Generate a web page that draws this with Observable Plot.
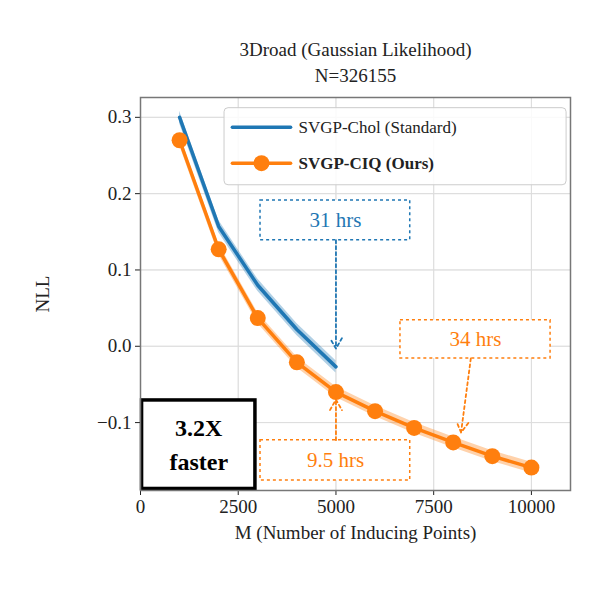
<!DOCTYPE html>
<html><head>
<meta charset="utf-8">
<script src="https://cdn.jsdelivr.net/npm/d3@7"></script>
<script src="https://cdn.jsdelivr.net/npm/@observablehq/plot@0.6"></script>
<style>body{margin:0;background:#fff}</style>
</head><body>
<div id="chart"></div>
<script>
const cholM = [1000, 2000, 3000, 4000, 5000]
const cholNLL = [0.300, 0.157, 0.080, 0.022, -0.027]
const ciqM = [1000, 2000, 3000, 4000, 5000, 6000, 7000, 8000, 9000, 10000]
const ciqNLL = [0.270, 0.127, 0.037, -0.021, -0.060, -0.085, -0.107, -0.126, -0.144, -0.159]
const blue = "#1f77b4", orange = "#ff7f0e"

const chol = cholM.map((m, i) => ({m, v: cholNLL[i]}))
const ciq = ciqM.map((m, i) => ({m, v: ciqNLL[i]}))

const boxes = [
  {x1: 3070, x2: 6900, y1: 0.139, y2: 0.191, c: blue, t: "31 hrs", tx: 4990, ty: 0.165},
  {x1: 6650, x2: 10490, y1: -0.016, y2: 0.034, c: orange, t: "34 hrs", tx: 8570, ty: 0.009},
  {x1: 3070, x2: 6900, y1: -0.176, y2: -0.123, c: orange, t: "9.5 hrs", tx: 4990, ty: -0.150}
]
const arrows = [
  {x1: 5000, y1: 0.139, x2: 5000, y2: -0.003, c: blue},
  {x1: 8450, y1: -0.016, x2: 8200, y2: -0.113, c: orange},
  {x1: 5000, y1: -0.123, x2: 5000, y2: -0.070, c: orange}
]

const chart = Plot.plot({
  width: 600, height: 600,
  marginLeft: 140, marginRight: 30, marginTop: 97, marginBottom: 110,
  style: {fontFamily: "Liberation Serif", fontSize: "19px", color: "#222"},
  x: {domain: [0, 11000], ticks: [0, 2500, 5000, 7500, 10000], grid: true, label: "M (Number of Inducing Points)", labelArrow: "none", labelAnchor: "center", labelOffset: 48, tickSize: 5, tickFormat: d => String(d)},
  y: {domain: [-0.189, 0.326], ticks: [-0.1, 0, 0.1, 0.2, 0.3], grid: true, label: "NLL", labelArrow: "none", labelAnchor: "center", labelOffset: 105, tickFormat: d => d < 0 ? "\u2212" + Math.abs(d).toFixed(1) : d.toFixed(1), tickSize: 5},
  marks: [
    Plot.gridX({ticks: [0, 2500, 5000, 7500, 10000], stroke: "#ddd", strokeOpacity: 1}),
    Plot.gridY({ticks: [-0.1, 0, 0.1, 0.2, 0.3], stroke: "#ddd", strokeOpacity: 1}),
    Plot.areaY(chol, {x: "m", y1: d => d.v - 0.008, y2: d => d.v + 0.008, fill: blue, fillOpacity: 0.35}),
    Plot.areaY(ciq, {x: "m", y1: d => d.v - 0.007, y2: d => d.v + 0.007, fill: orange, fillOpacity: 0.35}),
    Plot.line(chol, {x: "m", y: "v", stroke: blue, strokeWidth: 3.5}),
    Plot.line(ciq, {x: "m", y: "v", stroke: orange, strokeWidth: 3.5}),
    Plot.dot(ciq, {x: "m", y: "v", fill: orange, r: 8}),
    Plot.rect(boxes, {x1: "x1", x2: "x2", y1: "y1", y2: "y2", fill: "white", stroke: "c", strokeDasharray: "3,3", strokeWidth: 1.5}),
    Plot.text(boxes, {x: "tx", y: "ty", text: "t", fill: "c", fontSize: 21}),
    Plot.arrow(arrows, {x1: "x1", y1: "y1", x2: "x2", y2: "y2", stroke: "c", strokeDasharray: "3,3", strokeWidth: 1.8, headLength: 10}),
    Plot.rect([0], {x1: 40, x2: 2940, y1: -0.187, y2: -0.071, fill: "white", stroke: "black", strokeWidth: 3.5}),
    Plot.text(["3.2X"], {x: 1490, y: -0.108, fontWeight: "bold", fontSize: 24, fill: "black"}),
    Plot.text(["faster"], {x: 1490, y: -0.152, fontWeight: "bold", fontSize: 24, fill: "black"}),
    Plot.rect([0], {x1: 2150, x2: 10900, y1: 0.211, y2: 0.312, fill: "white", fillOpacity: 0.85, stroke: "#ccc", rx: 4}),
    Plot.line([[2350, 0.287], [3840, 0.287]], {stroke: blue, strokeWidth: 3.5}),
    Plot.line([[2350, 0.240], [3840, 0.240]], {stroke: orange, strokeWidth: 3.5}),
    Plot.dot([[3095, 0.240]], {fill: orange, r: 8}),
    Plot.text(["SVGP-Chol (Standard)"], {x: 4040, y: 0.287, textAnchor: "start", fontSize: 17, fill: "#222"}),
    Plot.text(["SVGP-CIQ (Ours)"], {x: 4040, y: 0.240, textAnchor: "start", fontSize: 17, fontWeight: "bold", fill: "#222"}),
    Plot.text(["3Droad (Gaussian Likelihood)"], {frameAnchor: "top", dy: -55, fontSize: 19, fill: "#222"}),
    Plot.text(["N=326155"], {frameAnchor: "top", dy: -29, fontSize: 19, fill: "#222"}),
    Plot.frame({stroke: "#777", strokeWidth: 1.5})
  ]
})
d3.select('#chart').append(() => chart)
</script>
</body></html>
